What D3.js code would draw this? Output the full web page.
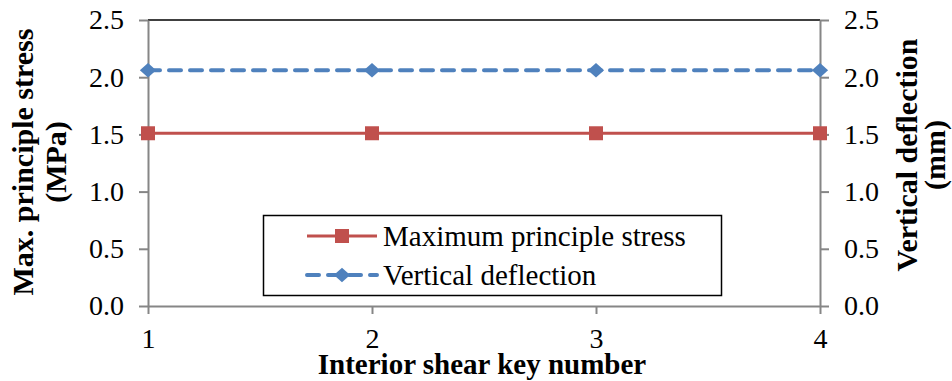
<!DOCTYPE html>
<html>
<head>
<meta charset="utf-8">
<script src="https://cdn.jsdelivr.net/npm/d3@7"></script>
<style>
  body { margin: 0; background: #fff; }
  svg { display: block; font-family: "Liberation Serif", "Times New Roman", serif; }
</style>
</head>
<body>
<svg id="chart" width="952" height="381"></svg>
<script>
const keyNumbers = [1, 2, 3, 4];
const maxStress = [1.51, 1.51, 1.51, 1.51];
const deflection = [2.06, 2.06, 2.06, 2.06];
const yTicks = [0, 0.5, 1.0, 1.5, 2.0, 2.5];

const svg = d3.select("#chart"),
  plotLeft = 148,
  plotRight = 820,
  plotTop = 20,
  plotBottom = 306,
  red = "#C0504D",
  blue = "#4F81BD",
  axisGrey = "#868686",
  tickFont = "28px",
  legendFont = "29px",
  titleFont = "29px";

const x = d3.scaleLinear().domain([1, 4]).range([plotLeft, plotRight]);
const yL = d3.scaleLinear().domain([0, 2.5]).range([plotBottom, plotTop]);
const yR = d3.scaleLinear().domain([0, 2.5]).range([plotBottom, plotTop]);

// top border of plot area
svg.append("line")
  .attr("x1", plotLeft).attr("x2", plotRight)
  .attr("y1", plotTop).attr("y2", plotTop)
  .attr("stroke", "#000").attr("stroke-width", 1.5);

function styleAxis(g) {
  g.attr("font-family", null).attr("font-size", null);
  g.selectAll(".domain").attr("stroke", axisGrey).attr("stroke-width", 2);
  g.selectAll(".tick line").attr("stroke", axisGrey).attr("stroke-width", 2);
  g.selectAll(".tick text")
    .attr("fill", "#000")
    .style("font-size", tickFont);
}

svg.append("g")
  .attr("transform", `translate(${plotLeft},0)`)
  .call(d3.axisLeft(yL).tickValues(yTicks).tickFormat(d3.format(".1f")).tickSize(9).tickSizeOuter(0).tickPadding(15))
  .call(styleAxis);

svg.append("g")
  .attr("transform", `translate(${plotRight},0)`)
  .call(d3.axisRight(yR).tickValues(yTicks).tickFormat(d3.format(".1f")).tickSize(9).tickSizeOuter(0).tickPadding(15))
  .call(styleAxis);

svg.append("g")
  .attr("transform", `translate(0,${plotBottom})`)
  .call(d3.axisBottom(x).tickValues(keyNumbers).tickFormat(d3.format("d")).tickSize(8).tickSizeOuter(0).tickPadding(14))
  .call(styleAxis);

// series
const stressData = keyNumbers.map((k, i) => [k, maxStress[i]]);
const deflData = keyNumbers.map((k, i) => [k, deflection[i]]);

svg.append("path")
  .datum(stressData)
  .attr("fill", "none")
  .attr("stroke", red)
  .attr("stroke-width", 3)
  .attr("d", d3.line().x((d) => x(d[0])).y((d) => yL(d[1])));

svg.append("path")
  .datum(deflData)
  .attr("fill", "none")
  .attr("stroke", blue)
  .attr("stroke-width", 4)
  .attr("stroke-linecap", "round")
  .attr("stroke-dasharray", "12,9")
  .attr("d", d3.line().x((d) => x(d[0])).y((d) => yR(d[1])));

// excel-style diamond, a bit wider than tall
const wideDiamond = {
  draw(ctx, size) {
    const w = Math.sqrt(size) * 0.58, h = Math.sqrt(size) * 0.52;
    ctx.moveTo(0, -h);
    ctx.lineTo(w, 0);
    ctx.lineTo(0, h);
    ctx.lineTo(-w, 0);
    ctx.closePath();
  },
};
const square = d3.symbol().type(d3.symbolSquare).size(196);
const diamond = d3.symbol().type(wideDiamond).size(196);

svg.append("g").selectAll("path")
  .data(stressData)
  .join("path")
  .attr("d", square)
  .attr("fill", red)
  .attr("transform", (d) => `translate(${x(d[0])},${yL(d[1])})`);

svg.append("g").selectAll("path")
  .data(deflData)
  .join("path")
  .attr("d", diamond)
  .attr("fill", blue)
  .attr("transform", (d) => `translate(${x(d[0])},${yR(d[1])})`);

// legend
const legend = svg.append("g");
legend.append("rect")
  .attr("x", 263.5).attr("y", 215.5)
  .attr("width", 458).attr("height", 80)
  .attr("fill", "#fff").attr("stroke", "#000").attr("stroke-width", 1.5);

legend.append("line")
  .attr("x1", 307).attr("x2", 377).attr("y1", 236).attr("y2", 236)
  .attr("stroke", red).attr("stroke-width", 3);
legend.append("path").attr("d", square).attr("fill", red)
  .attr("transform", "translate(342,236)");
legend.append("text").attr("x", 383).attr("y", 246)
  .style("font-size", legendFont).text("Maximum principle stress");

legend.append("line")
  .attr("x1", 307).attr("x2", 377).attr("y1", 275).attr("y2", 275)
  .attr("stroke", blue).attr("stroke-width", 4)
  .attr("stroke-linecap", "round").attr("stroke-dasharray", "12,9");
legend.append("path").attr("d", diamond).attr("fill", blue)
  .attr("transform", "translate(342,275)");
legend.append("text").attr("x", 383).attr("y", 285)
  .style("font-size", legendFont).text("Vertical deflection");

// axis titles
svg.append("text")
  .attr("x", 482).attr("y", 374)
  .attr("text-anchor", "middle")
  .style("font-size", titleFont).style("font-weight", "bold")
  .text("Interior shear key number");

const leftTitle = svg.append("text")
  .attr("transform", "translate(0,162) rotate(-90)")
  .attr("text-anchor", "middle")
  .style("font-size", "30px").style("font-weight", "bold");
leftTitle.append("tspan").attr("x", 0).attr("y", 33).text("Max. principle stress");
leftTitle.append("tspan").attr("x", 0).attr("y", 66).text("(MPa)");

const rightTitle = svg.append("text")
  .attr("transform", "translate(0,155) rotate(-90)")
  .attr("text-anchor", "middle")
  .style("font-size", "30px").style("font-weight", "bold");
rightTitle.append("tspan").attr("x", 0).attr("y", 917).text("Vertical deflection");
rightTitle.append("tspan").attr("x", 0).attr("y", 945).text("(mm)");
</script>
</body>
</html>
